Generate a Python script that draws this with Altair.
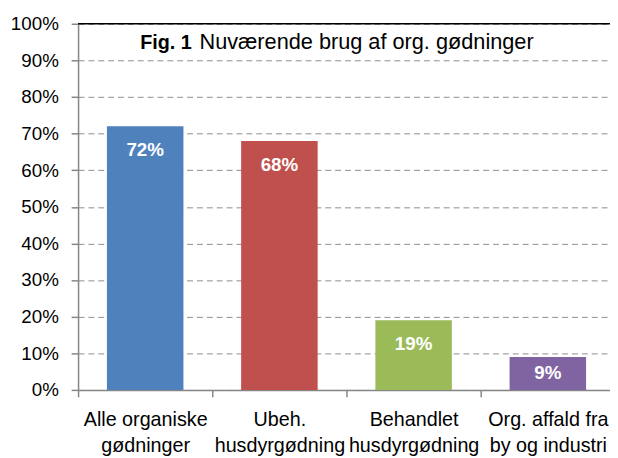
import altair as alt
import pandas as pd

categories = ["Alle organiske\ngødninger", "Ubeh.\nhusdyrgødning",
              "Behandlet\nhusdyrgødning", "Org. affald fra\nby og industri"]
values = [0.72, 0.68, 0.19, 0.09]
value_labels = ["72%", "68%", "19%", "9%"]
bar_colors = ["#4F81BD", "#C0504D", "#9BBB59", "#8064A2"]
y_ticks = [0.0, 0.1, 0.2, 0.3, 0.4, 0.5, 0.6, 0.7, 0.8, 0.9, 1.0]
title_bold = "Fig. 1"
title_rest = "Nuværende brug af org. gødninger"
y_max = [1.0]

FONT = "Liberation Sans"
AXIS_GRAY = "#868686"

df = pd.DataFrame({"cat": categories, "value": values,
                   "label": value_labels, "color": bar_colors})

x_axis = alt.Axis(title=None, labelAngle=0,
                  labelExpr="split(datum.label, '\\n')",
                  tickBand="extent", grid=False,
                  domainColor=AXIS_GRAY, domainWidth=1.5,
                  tickColor=AXIS_GRAY, tickSize=7, tickWidth=1.5,
                  labelFont=FONT, labelFontSize=20, labelColor="black",
                  labelPadding=13, labelLineHeight=26, labelOverlap=False)
x_scale = alt.Scale(range=[0, 544], paddingInner=0, paddingOuter=0)

y_scale = alt.Scale(domain=[0, 1], nice=False)
y_axis = alt.Axis(values=y_ticks, format=".0%", title=None, grid=True,
                  gridDash=[6, 4], gridColor="#8c8c8c", gridWidth=1,
                  domainColor=AXIS_GRAY, domainWidth=1.5,
                  tickColor=AXIS_GRAY, tickSize=7, tickWidth=1.5,
                  labelFont=FONT, labelFontSize=19, labelColor="black",
                  labelPadding=13, labelOverlap=False)

bars = alt.Chart(df).mark_bar(width=alt.RelativeBandSize(0.57)).encode(
    x=alt.X("cat:N", sort=categories, scale=x_scale, axis=x_axis),
    y=alt.Y("value:Q", scale=y_scale, axis=y_axis),
    color=alt.Color("color:N", scale=None, legend=None),
)

texts = alt.Chart(df).transform_calculate(
    ly="max(datum.value - 0.066, datum.value / 2)"
).mark_text(color="white", fontWeight="bold", fontSize=19, font=FONT,
            baseline="middle").encode(
    x=alt.X("cat:N", sort=categories, scale=x_scale, axis=x_axis),
    y=alt.Y("ly:Q", scale=y_scale, axis=y_axis),
    text="label:N",
)

top_rule = alt.Chart(pd.DataFrame({"top": y_max})).mark_rule(
    color="black", strokeWidth=1.5
).encode(y=alt.Y("top:Q", scale=y_scale, axis=y_axis))

one = pd.DataFrame({"a": [0]})
t1 = alt.Chart(one).mark_text(font=FONT, fontSize=20, fontWeight="bold",
                              align="left", baseline="alphabetic",
                              color="black").encode(
    x=alt.value(63), y=alt.value(26), text=alt.value(title_bold))
t2 = alt.Chart(one).mark_text(font=FONT, fontSize=22, align="left",
                              baseline="alphabetic", color="black").encode(
    x=alt.value(123), y=alt.value(26), text=alt.value(title_rest))

chart = alt.layer(bars, texts, top_rule, t1, t2).properties(
    width=539, height=371,
    padding={"left": 71, "top": 13, "right": 0, "bottom": 66},
    autosize=alt.AutoSizeParams(type="none"),
).configure_view(stroke=None)

chart.save("out.html", embed_options={"renderer": "svg", "actions": False})
